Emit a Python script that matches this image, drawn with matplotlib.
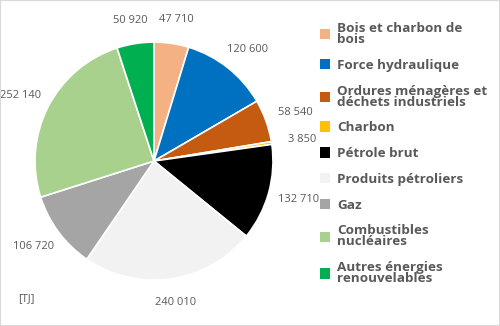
import numpy as np
import matplotlib
matplotlib.use("Agg")
import matplotlib.pyplot as plt
from matplotlib.patches import Rectangle

labels = ["Bois et charbon de\nbois", "Force hydraulique", "Ordures ménagères et\ndéchets industriels",
          "Charbon", "Pétrole brut", "Produits pétroliers", "Gaz",
          "Combustibles\nnucléaires", "Autres énergies\nrenouvelables"]
values = [47710, 120600, 58540, 3850, 132710, 240010, 106720, 252140, 50920]
colors = ["#F4B183", "#0070C0", "#C55A11", "#FFC000", "#000000",
          "#F2F2F2", "#A5A5A5", "#A9D18E", "#00B050"]

TXT = "#595959"
plt.rcParams['font.family'] = ['Open Sans', 'DejaVu Sans']

fig = plt.figure(figsize=(5, 3.26), dpi=100)
fig.patches.append(Rectangle((0, 0), 1, 1, transform=fig.transFigure, fill=False,
                             edgecolor="#D9D9D9", linewidth=1.5))
ax = fig.add_axes([0.07, 0.141, 0.476, 0.730])
wedges, _ = ax.pie(values, colors=colors, startangle=90, counterclock=False,
                   wedgeprops=dict(edgecolor="white", linewidth=1.2))
ax.set_xlim(-1, 1)
ax.set_ylim(-1, 1)
ax.set_aspect("equal")

# data labels just outside each wedge
for w, v in zip(wedges, values):
    ang = np.deg2rad((w.theta1 + w.theta2) / 2)
    d = 1.2
    ax.text(d * np.cos(ang) * 1.05, d * np.sin(ang), f"{v:,}".replace(",", " "),
            ha="center", va="center", fontsize=8, color=TXT)

fig.text(0.036, 0.085, "[TJ]", fontsize=8, color=TXT, ha="left", va="center")

leg = fig.legend(wedges, labels, loc="upper left", bbox_to_anchor=(0.615, 0.97),
                 frameon=False, handlelength=0.8, handleheight=0.8, handletextpad=0.5,
                 labelspacing=0.95, prop=dict(size=9.7, weight="bold"))
for t in leg.get_texts():
    t.set_color(TXT)
    t.set_linespacing(0.8)
for h in leg.legend_handles:
    h.set_edgecolor("none")

fig.savefig("out.png", dpi=100)
